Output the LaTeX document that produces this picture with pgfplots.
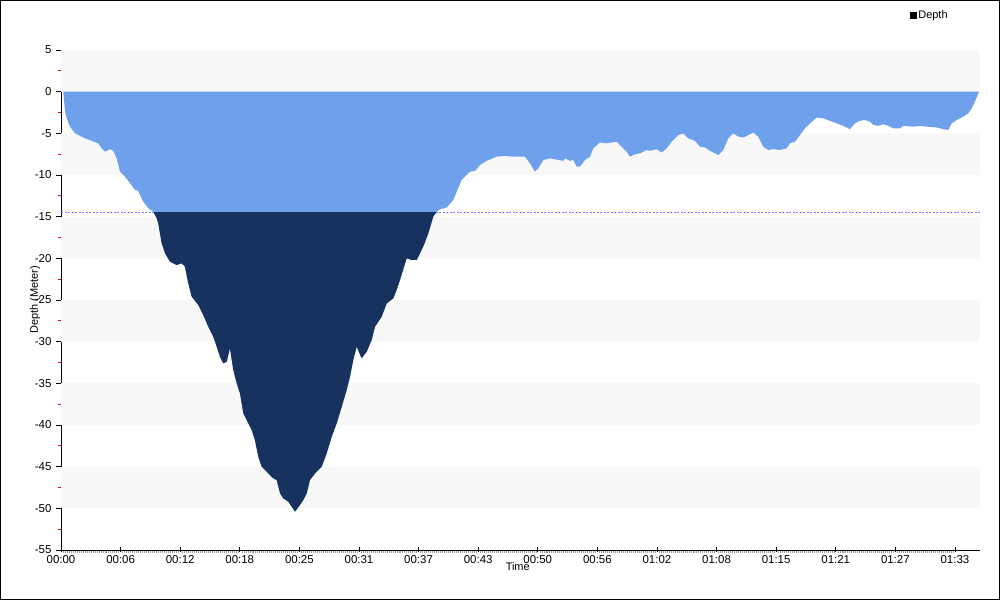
\documentclass[border=0pt]{standalone}
\usepackage{fontspec}
\setmainfont{Liberation Sans}
\usepackage{pgfplots}
\usepackage{pgfplotstable}
\pgfplotsset{compat=1.18}

\definecolor{shallowblue}{RGB}{111,160,236}
\definecolor{deepnavy}{RGB}{23,50,95}
\definecolor{bandgray}{RGB}{248,248,248}
\definecolor{limitblue}{RGB}{120,120,250}

% time in minutes, depth in metres
\pgfplotstableread{
t d
0 0
0.24 0
0.42 -2.4
0.60 -3.2
0.94 -4.2
1.47 -5.0
1.99 -5.3
2.52 -5.6
3.22 -5.9
3.91 -6.2
4.27 -6.8
4.61 -7.2
5.14 -6.9
5.48 -7.1
5.84 -8.0
6.19 -9.6
6.71 -10.2
7.24 -11.0
7.76 -11.8
8.11 -11.9
8.28 -12.4
8.63 -13.2
9.16 -14.0
9.68 -14.4
10.04 -15.2
10.20 -15.8
10.38 -17.0
10.56 -18.2
10.91 -19.4
11.43 -20.4
12.13 -20.8
12.66 -20.6
13.00 -21.0
13.35 -23.0
13.71 -24.6
14.40 -25.6
14.92 -26.8
15.45 -28.2
15.97 -29.4
16.33 -30.6
16.67 -31.8
17.02 -32.6
17.38 -32.4
17.72 -30.8
18.07 -33.4
18.43 -35.0
18.77 -36.2
19.12 -38.6
19.47 -39.4
20.00 -40.6
20.34 -41.8
20.69 -43.8
21.05 -45.0
21.57 -45.6
22.26 -46.4
22.62 -46.6
22.97 -48.2
23.31 -48.8
23.84 -49.2
24.19 -49.8
24.54 -50.4
25.06 -49.6
25.41 -49.0
25.77 -48.2
26.11 -46.6
26.64 -45.8
27.34 -45.0
27.86 -43.4
28.39 -41.4
28.91 -39.8
29.44 -37.8
29.96 -35.8
30.31 -34.2
30.65 -32.2
31.01 -30.6
31.53 -32.0
32.06 -31.2
32.58 -29.8
32.93 -28.2
33.63 -27.0
34.16 -25.4
34.85 -24.8
35.20 -23.8
35.55 -22.6
36.25 -20.0
36.78 -20.2
37.30 -20.2
37.99 -18.6
38.52 -17.0
39.04 -15.0
39.40 -14.4
39.75 -14.1
40.45 -13.9
41.14 -13.0
41.50 -12.0
42.02 -10.6
42.89 -9.6
43.42 -9.5
43.94 -8.8
44.64 -8.3
45.69 -7.8
46.56 -7.7
47.43 -7.8
48.66 -7.8
49.18 -8.6
49.71 -9.6
50.06 -9.2
50.58 -8.2
51.28 -8.0
52.68 -8.3
52.85 -8.0
53.38 -8.3
53.72 -8.2
54.08 -9.0
54.43 -9.0
54.95 -8.2
55.48 -7.8
55.82 -6.8
56.52 -6.1
57.23 -6.2
58.28 -6.0
58.62 -6.4
59.32 -7.2
59.67 -7.8
60.19 -7.5
60.72 -7.4
61.42 -7.0
61.77 -7.1
62.47 -6.9
63.00 -7.3
63.52 -6.8
64.04 -6.0
64.74 -5.2
65.26 -5.0
65.79 -5.6
66.49 -5.9
67.01 -6.6
67.54 -6.7
68.24 -7.2
68.93 -7.6
69.46 -7.0
69.98 -5.6
70.50 -5.0
71.03 -5.4
71.55 -5.5
72.08 -5.2
72.60 -4.9
73.13 -5.4
73.65 -6.6
74.18 -7.0
74.70 -6.9
75.40 -7.0
76.10 -6.8
76.45 -6.2
76.98 -6.0
77.50 -5.2
78.02 -4.4
78.55 -3.8
79.25 -3.1
79.94 -3.2
80.64 -3.5
81.35 -3.8
82.04 -4.1
82.74 -4.5
83.26 -3.8
83.79 -3.5
84.31 -3.4
84.84 -3.6
85.19 -4.0
85.71 -4.1
86.24 -3.9
86.76 -4.1
87.29 -4.4
87.99 -4.4
88.33 -4.1
89.38 -4.2
90.08 -4.1
90.78 -4.2
91.83 -4.3
92.53 -4.5
93.05 -4.6
93.41 -3.8
93.93 -3.4
94.62 -3.0
95.15 -2.6
95.50 -2.0
95.85 -1.2
96.20 -0.2
96.30 0
}\depthdata

\begin{document}
\begin{tikzpicture}
\draw[line width=1bp] (0.5bp,0.5bp) rectangle (999.5bp,599.5bp);
\begin{axis}[
    at={(61bp,50bp)},
    anchor=south west,
    scale only axis,
    width=919bp,
    height=500bp,
    xmin=0, xmax=96.38,
    ymin=-55, ymax=5,
    axis x line=bottom,
    axis y line=left,
    axis line style={-, line width=0.8bp},
    xtick={0,6.25,...,93.75},
    xticklabels={00:00,00:06,00:12,00:18,00:25,00:31,00:37,00:43,00:50,00:56,01:02,01:08,01:15,01:21,01:27,01:33},
    ytick={-55,-50,...,5},
    yticklabels={-55,-50,-45,-40,-35,-30,-25,-20,-15,-10,-5,0,5},
    minor x tick num=29,
    minor y tick num=1,
    x tick style={black, line width=0.7bp},
    y tick style={black, line width=0.7bp},
    xtick align=center,
    ytick align=outside,
    major tick length=5bp,
    minor tick length=3bp,
    minor x tick style={gray!75, line width=0.4bp, /pgfplots/tick align=outside},
    minor y tick style={red, line width=1bp},
    tick label style={font=\fontsize{11.5}{13}\selectfont},
    yticklabel style={xshift=-1bp},
    xticklabel style={yshift=1bp},
    xlabel={Time},
    ylabel={Depth (Meter)},
    label style={font=\fontsize{11}{13}\selectfont},
    xlabel style={at={(axis description cs:0.497,-0.034)}, anchor=center},
    ylabel style={at={(axis description cs:-0.0283,0.5)}, anchor=center, rotate=0},
    legend style={at={(axis description cs:0.924,1.07)}, anchor=west, draw=none, fill=none,
        font=\fontsize{11}{13}\selectfont, inner sep=0pt, row sep=0pt},
    legend cell align=left,
]
% alternating background bands
\fill[bandgray] (axis cs:0,0) rectangle (axis cs:96.38,5);
\fill[bandgray] (axis cs:0,-10) rectangle (axis cs:96.38,-5);
\fill[bandgray] (axis cs:0,-20) rectangle (axis cs:96.38,-15);
\fill[bandgray] (axis cs:0,-30) rectangle (axis cs:96.38,-25);
\fill[bandgray] (axis cs:0,-40) rectangle (axis cs:96.38,-35);
\fill[bandgray] (axis cs:0,-50) rectangle (axis cs:96.38,-45);
% depth limit line
\draw[limitblue, line width=0.8bp, dash pattern=on 2bp off 1.5bp] (axis cs:0,-14.5) -- (axis cs:96.38,-14.5);

\addplot[fill=shallowblue, draw=none, forget plot] table[x=t, y=d] {\depthdata} \closedcycle;
\begin{scope}
\clip (axis cs:0,-14.5) rectangle (axis cs:96.38,-60);
\addplot[fill=deepnavy, draw=none, forget plot] table[x=t, y=d] {\depthdata} \closedcycle;
\end{scope}

\addlegendimage{only marks, mark=square*, mark size=3bp, black}
\addlegendentry{Depth}
\end{axis}
\end{tikzpicture}
\end{document}
